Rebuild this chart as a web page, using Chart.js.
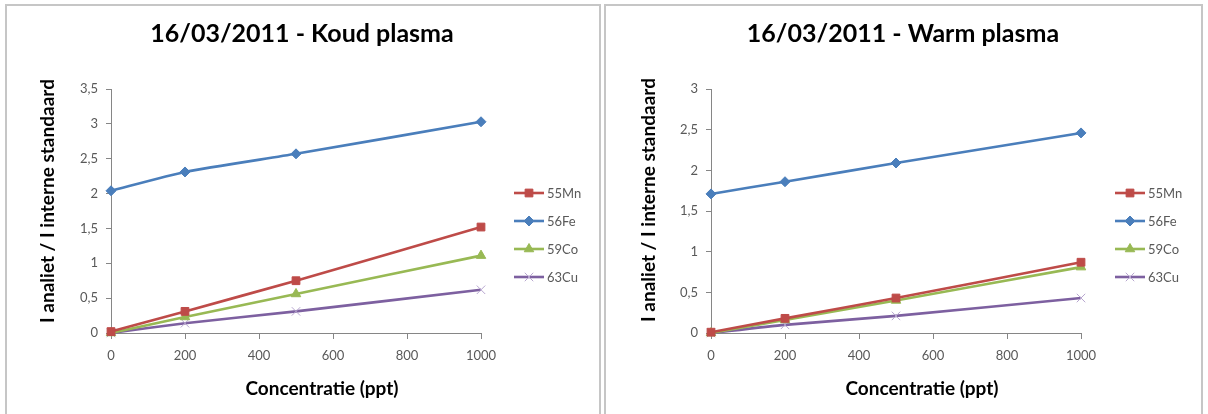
<!DOCTYPE html>
<html>
<head>
<meta charset="utf-8">
<script src="https://cdn.jsdelivr.net/npm/chart.js@4/dist/chart.umd.min.js"></script>
<style>
  html, body { margin: 0; padding: 0; background: #fff; }
  body { width: 1208px; height: 414px; overflow: hidden; position: relative; }
  .cv { position: absolute; top: 0; }
  .box { position: absolute; top: 4px; height: 440px; border: 2px solid #c6c6c6; box-sizing: border-box; pointer-events: none; }
</style>
</head>
<body>
<div class="box" style="left:5px;width:596px;"></div>
<div class="box" style="left:604px;width:599px;"></div>
<div class="cv" style="left:0;width:604px;height:414px;"><canvas id="c1"></canvas></div>
<div class="cv" style="left:604px;width:604px;height:414px;"><canvas id="c2"></canvas></div>
<script>
// ---- Data ----
const concentrations = [0, 200, 500, 1000];
const seriesNames = ['55Mn', '56Fe', '59Co', '63Cu'];

const koudMn = [0.02, 0.31, 0.75, 1.52];
const koudFe = [2.04, 2.31, 2.57, 3.03];
const koudCo = [0.00, 0.23, 0.56, 1.11];
const koudCu = [0.00, 0.14, 0.31, 0.62];

const warmMn = [0.01, 0.18, 0.43, 0.87];
const warmFe = [1.71, 1.86, 2.09, 2.46];
const warmCo = [0.00, 0.16, 0.40, 0.81];
const warmCu = [0.00, 0.10, 0.21, 0.43];

const xTicks = [0, 200, 400, 600, 800, 1000];
const yTicksKoud = [0, 0.5, 1, 1.5, 2, 2.5, 3, 3.5];
const yTicksWarm = [0, 0.5, 1, 1.5, 2, 2.5, 3];

const titleKoud = '16/03/2011 - Koud plasma';
const titleWarm = '16/03/2011 - Warm plasma';
const xTitle = 'Concentratie (ppt)';
const yTitle = 'I analiet / I interne standaard';

// ---- Styles ----
const FONT = 'Lato, "Open Sans", "Liberation Sans", sans-serif';
const TXT = '#595959';
const AXIS = '#868686';
const styles = [
  { color: '#BE4B48', pointStyle: 'rect', radius: 5.5, pbw: 1, pcolor: '#BE4B48' },
  { color: '#4A7EBB', pointStyle: 'rectRot', radius: 5, pbw: 1, pcolor: '#4A7EBB' },
  { color: '#98B954', pointStyle: 'triangle', radius: 5.5, pbw: 1, pcolor: '#98B954' },
  { color: '#7D60A0', pointStyle: 'crossRot', radius: 6, pbw: 1, pcolor: '#b7a6cf' }
];

function makeDatasets(arrs) {
  return arrs.map((vals, i) => ({
    label: seriesNames[i],
    data: concentrations.map((x, j) => ({ x: x, y: vals[j] })),
    borderColor: styles[i].color,
    backgroundColor: styles[i].pcolor,
    pointBorderColor: styles[i].pcolor,
    pointBackgroundColor: styles[i].pcolor,
    pointStyle: styles[i].pointStyle,
    pointRadius: styles[i].radius,
    pointBorderWidth: styles[i].pbw,
    borderWidth: 2.6,
    tension: 0.2,
    clip: false
  }));
}

const legendPlugin = {
  id: 'lineLegend',
  afterDraw(chart, args, opts) {
    const ctx = chart.ctx;
    ctx.save();
    chart.data.datasets.forEach((ds, i) => {
      const y = opts.y0 + i * opts.dy;
      const x0 = opts.x0;
      ctx.strokeStyle = ds.borderColor;
      ctx.lineWidth = 2.6;
      ctx.beginPath();
      ctx.moveTo(x0, y);
      ctx.lineTo(x0 + 30, y);
      ctx.stroke();
      ctx.fillStyle = ds.pointBackgroundColor;
      ctx.strokeStyle = ds.pointBorderColor;
      ctx.lineWidth = ds.pointBorderWidth;
      Chart.helpers.drawPoint(ctx, { pointStyle: ds.pointStyle, radius: ds.pointRadius, rotation: 0, borderWidth: ds.pointBorderWidth }, x0 + 15, y);
      ctx.fillStyle = TXT;
      ctx.font = '13px ' + FONT;
      ctx.textBaseline = 'middle';
      ctx.textAlign = 'left';
      ctx.fillText(ds.label, x0 + 33, y + 0.5);
    });
    ctx.restore();
  }
};

const titlesPlugin = {
  id: 'titles',
  afterDraw(chart, args, o) {
    const ctx = chart.ctx;
    ctx.save();
    ctx.fillStyle = '#000';
    ctx.textAlign = 'center';
    ctx.textBaseline = 'middle';
    ctx.font = 'bold 25px ' + FONT;
    ctx.fillText(o.title, o.tx, o.ty);
    ctx.font = 'bold 19px ' + FONT;
    ctx.fillText(xTitle, o.xx, o.xy);
    ctx.translate(o.yx, o.yy);
    ctx.rotate(-Math.PI / 2);
    ctx.fillText(yTitle, 0, 0);
    ctx.restore();
  }
};

function makeChart(id, title, arrs, yTicks, yWidth, padRight, legendX, pos) {
  const yMax = yTicks[yTicks.length - 1];
  return new Chart(document.getElementById(id), {
    type: 'line',
    data: { datasets: makeDatasets(arrs) },
    options: {
      responsive: true,
      maintainAspectRatio: false,
      animation: false,
      layout: { padding: { top: 89, left: 0, right: padRight, bottom: 11 } },
      plugins: {
        legend: { display: false },
        tooltip: { enabled: false },
        title: { display: false },
        lineLegend: { x0: legendX, y0: 193, dy: 28 },
        titles: Object.assign({ title: title }, pos)
      },
      scales: {
        x: {
          type: 'linear',
          min: xTicks[0],
          max: xTicks[xTicks.length - 1],
          afterBuildTicks: (s) => { s.ticks = xTicks.map(v => ({ value: v })); },
          afterFit: (s) => { s.height = 70; },
          ticks: { color: TXT, font: { family: FONT, size: 13 }, padding: 9, maxRotation: 0,
                   callback: (v) => String(v) },
          grid: { display: true, drawOnChartArea: false, drawTicks: true, tickLength: 6, color: AXIS },
          border: { display: true, color: AXIS, width: 1 }
        },
        y: {
          type: 'linear',
          min: 0,
          max: yMax,
          afterBuildTicks: (s) => { s.ticks = yTicks.map(v => ({ value: v })); },
          afterFit: (s) => { s.width = yWidth; },
          ticks: {
            color: TXT, font: { family: FONT, size: 13 }, padding: 8,
            callback: (v) => String(v).replace('.', ',')
          },
          grid: { display: true, drawOnChartArea: false, drawTicks: true, tickLength: 5, color: AXIS },
          border: { display: true, color: AXIS, width: 1 }
        }
      }
    },
    plugins: [legendPlugin, titlesPlugin]
  });
}

makeChart('c1', titleKoud, [koudMn, koudFe, koudCo, koudCu], yTicksKoud, 111, 123, 514,
  { tx: 302, ty: 34, xx: 322, xy: 389, yx: 48, yy: 201 });
makeChart('c2', titleWarm, [warmMn, warmFe, warmCo, warmCu], yTicksWarm, 107, 127, 511,
  { tx: 299, ty: 34, xx: 318, xy: 389, yx: 45, yy: 200 });
</script>
</body>
</html>
